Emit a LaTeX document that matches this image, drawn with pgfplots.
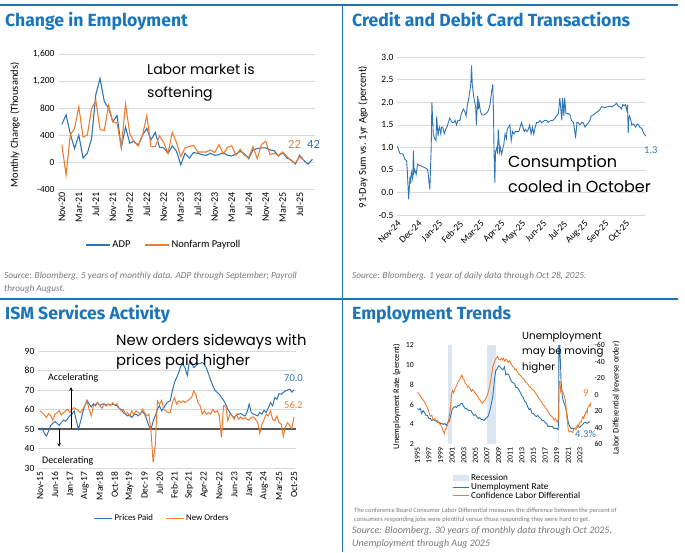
\documentclass[border=0pt]{standalone}
\usepackage{fontspec}
\setmainfont{Carlito}
\newfontfamily\titlefont{Fira Sans}
\newfontfamily\handfont{Poppins}
\usepackage{pgfplots}
\pgfplotsset{compat=1.18}

\definecolor{hdrblue}{RGB}{27,117,187}
\definecolor{lblue}{RGB}{46,117,182}
\definecolor{lorange}{RGB}{237,125,49}
\definecolor{gridgray}{RGB}{217,217,217}
\definecolor{srcgray}{RGB}{120,120,120}
\definecolor{recess}{RGB}{220,230,243}
\definecolor{fiftyline}{RGB}{89,89,89}

\pgfplotsset{
  panel/.style={
    scale only axis,
    axis line style={draw=none},
    major tick length=0pt,
    ymajorgrids,
    grid style={gridgray, line width=0.7pt},
    tick label style={font=\fontsize{9.5}{10}\selectfont},
    /pgf/number format/assume math mode=true,
    legend style={draw=none, fill=none, font=\fontsize{10.5}{12}\selectfont},
    legend cell align=left,
  },
}
\tikzset{
  handtext/.style={anchor=base west, inner sep=0pt, font=\handfont\fontsize{14}{16}\selectfont},
  ttl/.style={anchor=base west, inner sep=0pt, text=hdrblue, font=\titlefont\bfseries\fontsize{17.6}{20}\selectfont},
  src/.style={anchor=base west, inner sep=0pt, text=srcgray, font=\itshape\fontsize{9.3}{10}\selectfont},
}

\begin{document}
\begin{tikzpicture}[x=1pt,y=1pt]
\path[use as bounding box] (0,0) rectangle (685,552);

% frame lines
\draw[hdrblue, line width=1.3pt] (0,547) -- (678,547);
\draw[hdrblue, line width=1.3pt] (342.5,547) -- (342.5,0);
\draw[hdrblue, line width=1.3pt] (0,253) -- (678,253);

% titles
\node[ttl] at (5,525) {Change in Employment};
\node[ttl] at (352,525) {Credit and Debit Card Transactions};
\node[ttl] at (5,232) {ISM Services Activity};
\node[ttl] at (352,232) {Employment Trends};

% ---------------- panel 1: change in employment
\begin{axis}[panel,
  at={(58pt,363pt)}, anchor=south west, width=257pt, height=134.7pt,
  xmin=-0.9, xmax=59.6, ymin=-400, ymax=1600,
  ytick={-400,0,...,1600}, scaled y ticks=false,
  xtick={0,4,...,56},
  xticklabels={Nov-20,Mar-21,Jul-21,Nov-21,Mar-22,Jul-22,Nov-22,Mar-23,Jul-23,Nov-23,Mar-24,Jul-24,Nov-24,Mar-25,Jul-25},
  xticklabel style={rotate=90, anchor=east, font=\fontsize{10}{11}\selectfont},
  legend style={at={(0.412,-0.416)}, anchor=center, legend columns=2,
    /tikz/every even column/.append style={column sep=12pt}},
  legend image code/.code={\draw[#1] (0pt,0pt) -- (24pt,0pt);},
]
\addplot[lblue, line width=1.1pt] coordinates {
(0,560) (1,700) (2,420) (3,200) (4,400) (5,60) (6,130) (7,350) (8,1000) (9,1240)
(10,900) (11,800) (12,600) (13,690) (14,220) (15,520) (16,280) (17,310) (18,250) (19,400)
(20,500) (21,330) (22,440) (23,220) (24,210) (25,130) (26,240) (27,160) (28,-40) (29,130)
(30,60) (31,140) (32,130) (33,110) (34,100) (35,130) (36,100) (37,110) (38,140) (39,100)
(40,90) (41,120) (42,160) (43,120) (44,50) (45,180) (46,200) (47,210) (48,210) (49,180)
(50,170) (51,90) (52,140) (53,60) (54,30) (55,-30) (56,100) (57,20) (58,-30) (59,42)};
\addlegendentry{ADP}
\addplot[lorange, line width=1.1pt] coordinates {
(0,260) (1,-190) (2,400) (3,500) (4,820) (5,370) (6,400) (7,790) (8,920) (9,480)
(10,470) (11,840) (12,600) (13,580) (14,210) (15,860) (16,420) (17,300) (18,240) (19,400)
(20,690) (21,230) (22,230) (23,390) (24,290) (25,130) (26,440) (27,290) (28,80) (29,210)
(30,230) (31,250) (32,150) (33,150) (34,150) (35,180) (36,140) (37,260) (38,120) (39,220)
(40,240) (41,100) (42,190) (43,100) (44,70) (45,230) (46,50) (47,260) (48,310) (49,110)
(50,130) (51,100) (52,150) (53,80) (54,19) (55,-13) (56,79) (57,22)};
\addlegendentry{Nonfarm Payroll}
\end{axis}
\node[rotate=90, font=\fontsize{10.5}{12}\selectfont] at (15,427) {Monthly Change (Thousands)};
\node[handtext] at (147,477) {Labor market is};
\node[handtext] at (147,454) {softening};
\node[anchor=base west, inner sep=0pt, text=lorange, font=\fontsize{12.5}{14}\selectfont] at (288,403) {22};
\node[anchor=base west, inner sep=0pt, text=lblue, font=\fontsize{12.5}{14}\selectfont] at (307,403) {42};
\node[src] at (4,273) {Source: Bloomberg. 5 years of monthly data. ADP through September; Payroll};
\node[src] at (4,260) {through August.};

% ---------------- panel 2: card transactions
\begin{axis}[panel,
  at={(397pt,337pt)}, anchor=south west, width=249pt, height=157.7pt,
  xmin=0, xmax=364, ymin=-0.5, ymax=3,
  ytick={-0.5,0,0.5,1,1.5,2,2.5,3},
  yticklabel style={/pgf/number format/.cd, fixed, fixed zerofill, precision=1},
  xtick={0,30.4,60.8,91.2,121.6,152,182.4,212.8,243.2,273.6,304,334.4},
  xticklabels={Nov-24,Dec-24,Jan-25,Feb-25,Mar-25,Apr-25,May-25,Jun-25,Jul-25,Aug-25,Sep-25,Oct-25},
  xticklabel style={rotate=45, anchor=north east},
]
\addplot[lblue, line width=0.9pt] table {
x y
0 1.03
1 1.0
4 0.87
9 0.85
11 0.75
14 0.7
15 0.5
17 -0.15
18 0.1
19 0.35
20 0.2
21 0.45
23 0.3
24 0.93
25 0.45
26 0.5
28 0.4
30 0.63
33 0.6
38 0.57
43 0.53
45 0.5
47 0.2
48 0.07
50 1.0
51 2.0
53 1.3
55 1.2
57 1.15
58 1.68
60 1.25
61 1.4
62 1.45
64 1.3
65 1.45
67 1.45
69 1.3
71 1.4
73 1.45
75 1.55
77 1.65
79 1.6
81 1.55
83 1.55
85 1.6
87 1.5
89 1.6
92 1.6
94 1.75
97 1.85
99 1.8
101 1.7
103 1.95
105 2.1
107 2.3
108 2.45
109 2.82
110 2.4
112 2.15
113 2.05
115 1.9
116 1.5
118 2.15
119 1.85
120 2.0
122 1.8
124 1.72
127 1.72
130 1.75
133 1.8
136 1.95
138 2.2
140 2.4
141 1.8
142 0.8
143 0.22
144 0.9
146 1.0
147 0.85
148 1.4
150 0.9
151 1.0
153 0.85
155 1.0
156 1.05
158 1.3
160 1.2
161 1.4
163 1.45
165 1.5
167 1.15
169 1.35
171 1.3
173 1.35
176 1.35
178 1.35
180 1.45
182 1.55
184 1.45
186 1.35
188 1.4
190 1.35
192 1.4
194 1.5
196 1.3
198 1.45
200 1.3
202 1.45
204 1.55
206 1.55
209 1.6
211 1.55
214 1.58
216 1.6
219 1.6
221 1.55
223 1.58
226 1.6
228 1.6
231 1.65
233 1.7
236 1.75
238 2.1
240 1.75
241 1.6
242 2.1
244 1.7
245 2.1
247 1.75
249 1.75
251 1.75
253 1.72
255 1.6
258 1.55
260 1.35
261 1.2
263 1.55
265 1.55
267 1.5
270 1.55
272 1.55
275 1.45
277 1.5
280 1.55
282 1.6
284 1.7
287 1.72
289 1.75
292 1.78
294 1.8
297 1.85
299 1.9
301 1.9
304 1.88
306 1.9
309 1.9
311 1.92
314 1.9
316 1.92
319 1.95
321 1.98
323 1.92
326 1.9
328 1.85
330 1.95
332 1.92
334 1.95
336 1.82
337 1.95
338 1.32
339 1.65
340 1.7
341 1.65
342 1.6
343 1.5
345 1.52
347 1.5
349 1.45
351 1.52
353 1.5
355 1.45
358 1.42
359 1.38
361 1.3
364 1.25
};
\end{axis}
\node[rotate=90, font=\fontsize{10.5}{12}\selectfont] at (363,415) {91-Day Sum vs. 1yr Ago (percent)};
\node[handtext, font=\handfont\fontsize{16}{18}\selectfont] at (508,384) {Consumption};
\node[handtext, font=\handfont\fontsize{16}{18}\selectfont] at (508,359) {cooled in October};
\node[anchor=base west, inner sep=0pt, text=lblue, font=\fontsize{10.5}{12}\selectfont] at (644,398) {1.3};
\node[src] at (352,273) {Source: Bloomberg. 1 year of daily data through Oct 28, 2025.};

% ---------------- panel 3: ISM services
\begin{axis}[panel,
  at={(37.9pt,83.7pt)}, anchor=south west, width=258.2pt, height=117.3pt,
  xmin=-1, xmax=120, ymin=30, ymax=90,
  ytick={30,40,...,90},
  xtick={0,7,...,119},
  xticklabels={Nov-15,Jun-16,Jan-17,Aug-17,Mar-18,Oct-18,May-19,Dec-19,Jul-20,Feb-21,Sep-21,Apr-22,Nov-22,Jun-23,Jan-24,Aug-24,Mar-25,Oct-25},
  xticklabel style={rotate=90, anchor=east},
  legend style={at={(0.481,-0.424)}, anchor=center, legend columns=2, font=\fontsize{8.8}{10}\selectfont,
    /tikz/every even column/.append style={column sep=10pt}},
  legend image code/.code={\draw[#1] (0pt,0pt) -- (18pt,0pt);},
]
\addplot[fiftyline, line width=1.8pt, forget plot] coordinates {(-1,50) (120,50)};
\addplot[lblue, line width=1pt] coordinates {
(0,49.5) (1,50.5) (2,48) (3,46.5) (4,49) (5,52) (6,53) (7,54) (8,53) (9,52)
(10,53.5) (11,54.6) (12,54) (13,55.5) (14,57) (15,57.7) (16,59.4) (17,54.3) (18,50) (19,54)
(20,58.5) (21,62) (22,64.8) (23,62.8) (24,61.4) (25,63) (26,62) (27,63.6) (28,62) (29,62.8)
(30,63) (31,62.3) (32,62.8) (33,62.3) (34,62.8) (35,62.4) (36,62) (37,60.7) (38,60.2) (39,58.5)
(40,57.7) (41,56.8) (42,57.3) (43,56) (44,57.3) (45,57.7) (46,56.8) (47,58) (48,59) (49,57.7)
(50,55) (51,51.7) (52,50) (53,54) (54,56.8) (55,60.2) (56,62) (57,59.4) (58,61) (59,62.8)
(60,64) (61,64.5) (62,69.6) (63,73.9) (64,76.4) (65,79) (66,82.4) (67,83.2) (68,81.2) (69,77.6)
(70,84.6) (71,84.1) (72,81.5) (73,82.4) (74,83.6) (75,83.6) (76,84.1) (77,83.2) (78,81.2) (79,78.1)
(80,75) (81,72.2) (82,70) (83,68.8) (84,67.9) (85,66.2) (86,64.8) (87,62.8) (88,60.2) (89,58.5)
(90,56.8) (91,56) (92,57.3) (93,57.7) (94,58) (95,57.3) (96,56.8) (97,58.5) (98,62.8) (99,58.5)
(100,57.7) (101,57.3) (102,56.8) (103,58.5) (104,57.7) (105,59.7) (106,58.5) (107,61) (108,63.6) (109,62)
(110,66.2) (111,65.3) (112,68.2) (113,67.9) (114,68.8) (115,69.6) (116,70) (117,70.5) (118,69) (119,70.0)};
\addlegendentry{Prices Paid}
\addplot[lorange, line width=1pt] coordinates {
(0,59.4) (1,58.5) (2,57.3) (3,56) (4,58) (5,56.8) (6,54.6) (7,57.7) (8,58.5) (9,59.4)
(10,57.3) (11,58.5) (12,59.4) (13,60.2) (14,58.5) (15,60.2) (16,61) (17,60.2) (18,59.4) (19,58.5)
(20,60.2) (21,62) (22,64.5) (23,60.2) (24,56.8) (25,62) (26,62.8) (27,63.6) (28,62) (29,60.7)
(30,62.8) (31,61.8) (32,63) (33,62) (34,63.5) (35,62.4) (36,63) (37,61) (38,59.4) (39,60.2)
(40,57.7) (41,58.5) (42,56.8) (43,59.4) (44,57.7) (45,59.4) (46,58.5) (47,57.7) (48,60.2) (49,58.5)
(50,56.8) (51,57.7) (52,49) (53,33) (54,42) (55,64.5) (56,62.8) (57,64.8) (58,60.2) (59,59.4)
(60,58.5) (61,58.5) (62,63.6) (63,66.2) (64,62.8) (65,64.5) (66,63.6) (67,64.5) (68,63.6) (69,64.5)
(70,65.3) (71,66.2) (72,69.6) (73,67.9) (74,63.6) (75,62) (76,57.7) (77,59.4) (78,57.7) (79,58.5)
(80,57.7) (81,60.2) (82,58.5) (83,59.4) (84,56.8) (85,45.7) (86,62) (87,62) (88,54.3) (89,57.7)
(90,56.8) (91,55.1) (92,57.7) (93,55.1) (94,56.3) (95,55.1) (96,56) (97,55.1) (98,54.6) (99,56)
(100,56.3) (101,55.1) (102,53.4) (103,47.8) (104,52.5) (105,55) (106,57.7) (107,56.8) (108,59.4) (109,55)
(110,54.3) (111,56.8) (112,53.4) (113,52.6) (114,46.4) (115,51.3) (116,53.4) (117,51.7) (118,50.4) (119,56.2)};
\addlegendentry{New Orders}
\addplot[black, line width=0.6pt, -stealth, forget plot] coordinates {(14.5,50) (14.5,71.5)};
\addplot[black, line width=0.6pt, -stealth, forget plot] coordinates {(8.9,50) (8.9,41)};
\end{axis}
\node[anchor=base west, inner sep=0pt, font=\fontsize{10}{12}\selectfont] at (48,172) {Accelerating};
\node[anchor=base west, inner sep=0pt, font=\fontsize{10}{12}\selectfont] at (42,89) {Decelerating};
\node[handtext, font=\handfont\fontsize{14.8}{17}\selectfont] at (116,207) {New orders sideways with};
\node[handtext, font=\handfont\fontsize{14.8}{17}\selectfont] at (116,187) {prices paid higher};
\node[anchor=base west, inner sep=0pt, text=lblue, font=\fontsize{10.5}{12}\selectfont] at (284,171) {70.0};
\node[anchor=base west, inner sep=0pt, text=lorange, font=\fontsize{10.5}{12}\selectfont] at (284,144) {56.2};

% ---------------- panel 4: employment trends
\begin{axis}[panel,
  at={(417.3pt,107.7pt)}, anchor=south west, width=173.7pt, height=99.3pt,
  ymajorgrids=false,
  xmin=0, xmax=359, ymin=2, ymax=12,
  ytick={2,4,...,12},
  xtick={0,24,...,336},
  xticklabels={1995,1997,1999,2001,2003,2005,2007,2009,2011,2013,2015,2017,2019,2021,2023},
  xticklabel style={rotate=90, anchor=east},
  tick label style={font=\fontsize{7.8}{9}\selectfont},
  legend style={at={(0.2,-0.279)}, anchor=north west, font=\fontsize{9.2}{10}\selectfont,
    row sep=-3pt, inner sep=0pt},
  legend image code/.code={\draw[#1] (0pt,0pt) -- (16pt,0pt);},
]
\addplot[fill=recess, draw=none, area legend,
  legend image code/.code={\fill[recess] (0pt,-3pt) rectangle (16pt,3pt);}] coordinates {(64,12) (72,12)} \closedcycle;
\addlegendentry{Recession}
\addplot[fill=recess, draw=none, forget plot] coordinates {(145,12) (163,12)} \closedcycle;
\addplot[fill=recess, draw=none, forget plot] coordinates {(291,12) (293,12)} \closedcycle;
\addplot[lblue, line width=0.9pt] coordinates {
(0,5.6) (3,5.5) (6,5.6) (9,5.1) (12,5.4) (15,5.2) (18,4.9) (21,4.9) (24,4.6) (27,4.6)
(30,4.4) (33,4.5) (36,4.4) (39,4.4) (42,4.2) (45,4.2) (48,4.1) (51,4.1) (54,4.0) (57,4.1)
(60,3.9) (63,4.2) (66,4.3) (69,4.9) (72,5.5) (75,5.7) (78,5.8) (81,5.7) (84,5.9) (87,5.9)
(90,6.1) (93,6.1) (96,5.8) (99,5.6) (102,5.6) (105,5.4) (108,5.4) (111,5.4) (114,5.1) (117,4.9)
(120,5.0) (123,4.8) (126,4.6) (129,4.7) (132,4.5) (135,4.5) (138,4.4) (141,4.6) (144,4.7) (147,4.9)
(150,5.4) (153,6.1) (156,6.8) (159,8.3) (162,9.4) (165,9.6) (168,9.9) (171,9.8) (174,9.6) (177,9.5)
(180,9.8) (183,9.0) (186,9.1) (189,9.0) (192,8.6) (195,8.3) (198,8.2) (201,8.1) (204,7.7) (207,7.7)
(210,7.5) (213,7.2) (216,6.9) (219,6.7) (222,6.3) (225,6.2) (228,5.8) (231,5.5) (234,5.6) (237,5.1)
(240,5.1) (243,4.9) (246,4.8) (249,4.9) (252,4.7) (255,4.6) (258,4.4) (261,4.4) (264,4.2) (267,4.1)
(270,3.8) (273,3.8) (276,3.8) (279,3.8) (282,3.6) (285,3.6) (288,3.6) (290,3.5) (291,3.5) (292,4.4)
(293,14.7) (294,13.2) (295,11.0) (296,10.2) (297,8.4) (298,7.8) (300,6.7) (303,6.2) (306,5.8) (309,5.1)
(312,4.2) (315,3.8) (318,3.6) (321,3.6) (324,3.6) (327,3.6) (330,3.7) (333,3.8) (336,3.7) (339,3.9)
(342,4.0) (345,4.2) (348,4.2) (351,4.1) (354,4.2) (357,4.3)};
\addlegendentry{Unemployment Rate}
\addlegendimage{lorange, line width=0.9pt}
\addlegendentry{Confidence Labor Differential}
\end{axis}
\begin{axis}[panel,
  at={(417.3pt,107.7pt)}, anchor=south west, width=173.7pt, height=99.3pt,
  ymajorgrids=false, hide x axis, axis y line*=right,
  xmin=0, xmax=359, ymin=-60, ymax=60, y dir=reverse,
  ytick={-60,-40,...,60},
  tick label style={font=\fontsize{7.8}{9}\selectfont},
]
\addplot[lorange, line width=0.9pt] coordinates {
(0,-3.6) (3,-1) (6,1.6) (9,4) (12,6.5) (15,9) (18,12.5) (21,16) (24,21) (27,26)
(30,25) (33,30.6) (36,29) (39,32.6) (42,31) (45,35) (48,36) (51,40) (54,44.7) (56,47)
(58,42) (60,40.7) (62,37) (64,32.6) (66,26) (68,18.5) (70,5) (71,-1.6) (73,-5) (75,-2)
(76,-3.6) (78,-7) (80,-9.7) (82,-12) (84,-15) (87,-17.7) (90,-21) (92,-23.8) (94,-20) (97,-17.7)
(99,-14) (102,-11.7) (104,-9) (106,-10) (109,-7.6) (112,-4) (114,-6) (116,-5.6) (119,-2) (121,-1)
(123,0.4) (126,3) (128,6) (130,6.5) (132,9) (135,10.5) (137,8) (140,6.5) (142,4) (145,0.4)
(147,-4) (150,-11.7) (152,-18) (154,-26) (156,-33.8) (158,-37) (161,-41.9) (163,-44) (166,-45.9) (168,-43)
(171,-41.9) (174,-44) (176,-42) (178,-43.9) (181,-40) (183,-43) (185,-41.9) (188,-39) (190,-41) (192,-39.9)
(195,-36) (197,-34) (199,-33) (202,-30) (204,-31) (206,-27.8) (209,-25) (212,-23.8) (215,-22) (217,-20)
(219,-19.7) (222,-17) (224,-15) (226,-14.5) (229,-12) (231,-10) (233,-9.7) (236,-7) (238,-6) (240,-5.6)
(243,-3) (245,-1) (247,0.4) (250,3) (252,5) (254,6.5) (257,9) (259,11) (261,12.5) (264,15)
(266,17) (268,18.5) (271,21) (273,23) (274,24.6) (277,26) (279,27) (281,28.6) (283,31) (285,29)
(287,30.6) (289,33) (291,31) (292,26.6) (293,-13.7) (294,-16) (295,-15.7) (296,-5) (297,-8) (299,-5.6)
(300,-3) (302,-1.6) (304,2) (306,6.5) (307,12) (309,26.6) (311,36) (312,42.7) (314,45) (316,44)
(319,44.7) (321,46) (323,42) (326,40.7) (328,42) (331,36.7) (333,38) (335,34) (337,32.6) (339,33)
(341,28) (342,26.6) (344,29) (346,24) (347,24.6) (349,20) (351,22) (352,16.5) (354,14) (356,12.5)
(357,14) (359,9)};
\end{axis}
\node[rotate=90, font=\fontsize{8.5}{9}\selectfont] at (396.7,155.3) {Unemployment Rate (percent)};
\node[rotate=90, font=\fontsize{8.5}{9}\selectfont] at (616,154) {Labor Differential (reverse order)};
\node[handtext, font=\handfont\fontsize{10.3}{12}\selectfont] at (522,212) {Unemployment};
\node[handtext, font=\handfont\fontsize{10.3}{12}\selectfont] at (522,197) {may be moving};
\node[handtext, font=\handfont\fontsize{10.3}{12}\selectfont] at (522,182) {higher};
\node[anchor=base west, inner sep=0pt, text=lorange, font=\fontsize{10.5}{12}\selectfont] at (583,156) {9};
\node[anchor=base west, inner sep=0pt, text=lblue, font=\fontsize{10.5}{12}\selectfont] at (575,115) {4.3\%};
\node[anchor=base west, inner sep=0pt, text=srcgray, font=\fontsize{6.5}{8}\selectfont] at (354,40) {The conference Board Consumer Labor Differential measures the difference between the percent of};
\node[anchor=base west, inner sep=0pt, text=srcgray, font=\fontsize{6.5}{8}\selectfont] at (354,31) {consumers responding jobs were plentiful versus those responding they were hard to get.};
\node[src, font=\itshape\fontsize{10}{12}\selectfont] at (352,18.7) {Source: Bloomberg. 30 years of monthly data through Oct 2025,};
\node[src, font=\itshape\fontsize{10}{12}\selectfont] at (352,5.3) {Unemployment through Aug 2025};
\end{tikzpicture}
\end{document}
